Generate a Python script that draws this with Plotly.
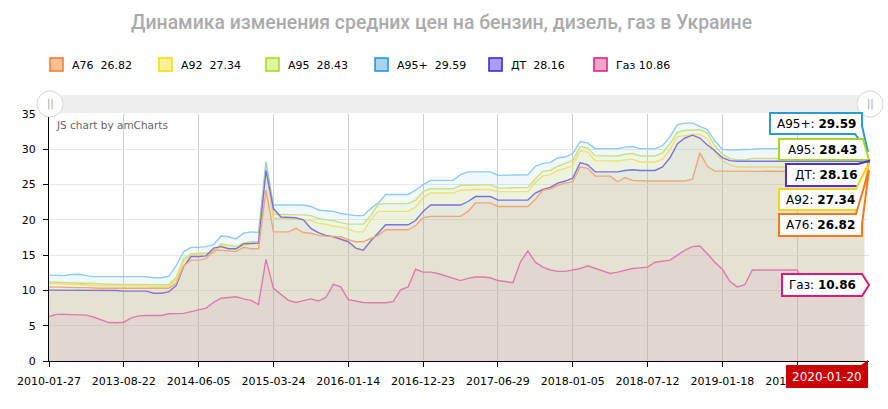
import plotly.graph_objects as go

# ---------------- data ----------------
tick_labels = ["2010-01-27", "2013-08-22", "2014-06-05", "2015-03-24", "2016-01-14",
               "2016-12-23", "2017-06-29", "2018-01-05", "2018-07-12", "2019-01-18",
               "2019-07-26"]
cursor_date = "2020-01-20"

a95p = [12.17, 12.15, 12.1, 12.25, 12.3, 12.1, 11.95, 11.95, 11.95, 11.95,
        11.95, 11.95, 11.95, 11.95, 11.8, 11.8, 12.0, 13.5, 15.5, 16.1,
        16.1, 16.2, 16.5, 17.7, 17.6, 17.3, 18.1, 18.3, 18.2, 28.2,
        22.1, 22.1, 22.2, 22.2, 22.1, 21.9, 21.4, 21.3, 21.2, 20.9,
        20.7, 20.6, 20.6, 21.6, 22.4, 23.6, 23.6, 23.6, 23.6, 24.2,
        25.0, 25.6, 25.6, 25.6, 25.6, 26.4, 26.8, 26.8, 26.8, 26.8,
        26.3, 26.3, 26.3, 26.3, 26.4, 27.6, 28.0, 28.1, 28.8, 28.9,
        29.4, 31.1, 30.9, 30.1, 30.1, 30.1, 30.1, 30.3, 30.4, 30.1,
        30.1, 30.1, 30.5, 31.8, 33.5, 33.7, 33.7, 33.3, 32.8, 31.2,
        30.0, 29.9, 29.9, 29.9, 30.0, 30.1, 30.1, 30.1, 30.1, 30.1,
        30.1, 30.1, 30.1, 30.1, 30.1, 30.1, 30.1, 30.1, 30.1, 29.59]

a95 = [11.2, 11.15, 11.1, 11.1, 11.1, 11.0, 10.9, 10.85, 10.85, 10.85,
       10.85, 10.85, 10.85, 10.85, 10.75, 10.75, 10.8, 11.9, 14.5, 15.2,
       15.2, 15.3, 15.4, 16.6, 16.4, 16.2, 16.7, 16.9, 16.9, 27.3,
       20.8, 20.8, 20.8, 20.8, 20.7, 20.6, 20.2, 20.0, 19.9, 19.6,
       19.4, 19.4, 19.4, 20.6, 22.2, 22.3, 22.3, 22.3, 22.3, 22.8,
       24.0, 24.4, 24.4, 24.4, 24.4, 24.9, 24.95, 24.95, 24.95, 24.95,
       24.5, 24.5, 24.5, 24.5, 24.6, 25.8, 26.9, 27.0, 27.6, 28.0,
       28.4, 30.4, 30.2, 29.1, 29.05, 29.05, 29.05, 29.3, 29.4, 29.05,
       29.05, 29.05, 29.5, 30.8, 32.4, 32.7, 32.7, 32.8, 32.3, 30.5,
       29.3, 28.7, 28.5, 28.5, 28.7, 28.7, 28.7, 28.7, 28.7, 28.7,
       28.7, 28.7, 28.7, 28.7, 28.7, 28.7, 28.7, 28.7, 28.7, 28.43]

a92 = [11.0, 10.95, 10.9, 10.9, 10.9, 10.8, 10.65, 10.65, 10.65, 10.65,
       10.65, 10.65, 10.65, 10.65, 10.5, 10.5, 10.6, 11.5, 14.2, 15.0,
       15.1, 15.1, 15.3, 16.4, 16.0, 15.9, 16.4, 16.65, 16.65, 27.0,
       20.2, 20.2, 20.2, 20.1, 20.0, 19.9, 19.5, 19.4, 19.1, 19.0,
       18.7, 18.3, 18.3, 20.0, 21.2, 21.2, 21.2, 21.2, 21.2, 21.8,
       23.2, 23.8, 23.8, 23.8, 23.8, 24.2, 24.3, 24.3, 24.3, 24.3,
       24.0, 24.0, 24.0, 24.0, 24.0, 25.3, 26.2, 26.4, 27.0, 27.3,
       27.7, 29.8, 29.6, 28.4, 28.35, 28.35, 28.35, 28.5, 28.6, 28.2,
       28.2, 28.2, 28.6, 30.0, 31.8, 32.0, 32.1, 32.1, 31.5, 29.6,
       28.4, 27.8, 27.5, 27.5, 27.5, 27.5, 27.5, 27.5, 27.5, 27.5,
       27.5, 27.5, 27.5, 27.5, 27.5, 27.5, 27.5, 27.5, 27.5, 27.34]

a76 = [10.5, 10.45, 10.4, 10.4, 10.4, 10.4, 10.3, 10.3, 10.3, 10.3,
       10.3, 10.3, 10.3, 10.3, 10.2, 10.2, 10.3, 11.0, 13.5, 14.3,
       14.3, 14.5, 15.7, 15.7, 15.6, 15.5, 16.1, 15.9, 15.9, 24.2,
       18.3, 18.3, 18.3, 18.8, 18.2, 18.1, 17.8, 17.7, 17.6, 17.6,
       17.2, 16.9, 16.9, 17.3, 17.8, 18.6, 18.6, 18.6, 18.6, 19.2,
       20.3, 20.5, 20.5, 20.5, 20.5, 20.5, 21.2, 22.4, 22.4, 22.4,
       21.9, 21.9, 21.9, 21.9, 21.9, 22.9, 24.2, 24.4, 24.9, 25.2,
       25.4, 27.5, 27.3, 26.2, 26.2, 26.2, 25.4, 26.0, 25.6, 25.5,
       25.5, 25.5, 25.5, 25.5, 25.5, 25.5, 25.75, 29.5, 27.6, 26.9,
       26.9, 26.9, 26.9, 26.9, 26.9, 26.9, 26.9, 26.9, 26.9, 26.9,
       26.9, 26.9, 26.9, 26.9, 26.9, 26.9, 26.9, 26.9, 26.9, 26.82]

dt = [10.05, 10.05, 10.05, 10.05, 10.05, 10.05, 10.05, 10.05, 10.05, 10.0,
      9.9, 9.9, 9.9, 9.9, 9.6, 9.6, 9.8, 10.7, 13.4, 14.8,
      14.8, 14.9, 16.0, 16.2, 15.9, 15.9, 16.6, 16.7, 16.7, 27.0,
      21.6, 20.4, 20.3, 20.3, 20.0, 18.8, 18.2, 17.8, 17.6, 17.3,
      16.9, 16.0, 15.7, 17.0, 18.1, 19.3, 19.3, 19.3, 19.3, 19.9,
      21.2, 22.1, 22.1, 22.1, 22.1, 22.1, 22.6, 23.3, 23.3, 23.3,
      22.8, 22.8, 22.8, 22.8, 22.8, 23.8, 24.3, 24.6, 25.2, 25.5,
      25.9, 28.1, 27.8, 26.8, 26.8, 26.8, 26.8, 27.0, 27.1, 27.0,
      27.0, 27.0, 27.5, 28.8, 30.8, 31.6, 32.0, 31.6, 30.6, 29.8,
      28.8, 28.4, 28.3, 28.3, 28.3, 28.3, 28.3, 28.3, 28.3, 28.3,
      28.3, 28.3, 28.3, 28.3, 28.3, 28.3, 28.3, 28.3, 28.3, 28.16]

gas = [6.3, 6.6, 6.6, 6.6, 6.6, 6.5, 6.2, 5.8, 5.45, 5.42,
       5.5, 6.1, 6.4, 6.45, 6.45, 6.45, 6.7, 6.75, 6.75, 7.0,
       7.2, 7.5, 8.3, 8.9, 9.0, 9.1, 8.8, 8.6, 8.0, 14.4,
       10.3, 9.4, 8.6, 8.3, 8.6, 8.8, 8.5, 9.0, 10.85, 10.5,
       8.7, 8.5, 8.3, 8.26, 8.26, 8.26, 8.4, 10.1, 10.5, 13.0,
       12.6, 12.6, 12.4, 12.1, 11.8, 11.4, 11.7, 11.9, 11.9, 11.8,
       11.4, 11.2, 11.1, 14.0, 15.6, 14.0, 13.3, 12.9, 12.7, 12.7,
       12.9, 13.1, 13.5, 13.1, 12.7, 12.4, 12.6, 12.9, 13.1, 13.2,
       13.3, 14.0, 14.2, 14.3, 15.0, 15.7, 16.2, 16.3, 15.2, 14.0,
       13.0, 11.3, 10.5, 10.8, 12.9, 12.9, 12.9, 12.9, 12.9, 12.9,
       12.9, 10.86, 10.86, 10.86, 10.86, 10.86, 10.86, 10.86, 10.86, 10.86]

names = ["A76", "A92", "A95", "A95+", "ДТ", "Газ"]
last_values = ["26.82", "27.34", "28.43", "29.59", "28.16", "10.86"]

idx = list(range(len(a95p)))
tick_idx = list(range(0, 101, 10))

# ---------------- styles ----------------
FONT = "DejaVu Sans"
series = [  # drawing order (largest first so smaller fills overlay)
    ("A95+", a95p, "#8fcbee", "rgba(140,200,240,0.13)"),
    ("A95", a95, "#c6e27c", "rgba(210,232,130,0.13)"),
    ("A92", a92, "#f5dc74", "rgba(250,222,100,0.10)"),
    ("ДТ", dt, "#7d70df", "rgba(130,112,220,0.07)"),
    ("A76", a76, "#eea878", "rgba(235,160,110,0.09)"),
    ("Газ", gas, "#e07aae", "rgba(205,105,185,0.10)"),
]

fig = go.Figure()
for nm, ys, lc, fc in series:
    fig.add_trace(go.Scatter(x=idx, y=ys, mode="lines", name=nm,
                             line=dict(color=lc, width=1.4),
                             fill="tozeroy", fillcolor=fc,
                             hoverinfo="skip", showlegend=False))

L, R, T, B = 49, 869, 114, 361


def px(x):
    return (x - L) / (R - L)


def py(y):
    return (B - y) / (B - T)


shapes = []
annos = []

# title
annos.append(dict(x=px(441), y=py(22), xref="paper", yref="paper", showarrow=False,
                  text="Динамика изменения средних цен на бензин, дизель, газ в Украине",
                  font=dict(family="Roboto", size=19.4, color="#ababab", weight=500),
                  xanchor="center", yanchor="middle"))

# legend
leg_fill = ["#fdbf94", "#fff19a", "#e1f5a0", "#a5d5ef", "#a99ef0", "#f2a4c9"]
leg_line = ["#f97a22", "#ffd700", "#a8d80e", "#1e90d0", "#3a1fd0", "#e0177c"]
leg_sq = [50, 159, 266, 375, 489, 594]
for i, nm in enumerate(names):
    x0 = leg_sq[i]
    shapes.append(dict(type="rect", xref="paper", yref="paper",
                       x0=px(x0), x1=px(x0 + 13), y0=py(58), y1=py(71),
                       fillcolor=leg_fill[i], line=dict(color=leg_line[i], width=1.5)))
    sep = "\u00a0 " if nm != "Газ" else " "
    annos.append(dict(x=px(x0 + 20), y=py(65), xref="paper", yref="paper", showarrow=False,
                      text=nm + sep + last_values[i], xanchor="left", yanchor="middle",
                      font=dict(family=FONT, size=11, color="#000")))

# scrollbar
shapes.append(dict(type="rect", xref="paper", yref="paper", x0=px(49), x1=px(870),
                   y0=py(113), y1=py(95), fillcolor="#eeeeee", line=dict(width=0), layer="below"))
for cx in (50, 870):
    shapes.append(dict(type="circle", xref="paper", yref="paper",
                       x0=px(cx - 13), x1=px(cx + 13), y0=py(117), y1=py(91),
                       fillcolor="#ffffff", line=dict(color="#d6d6d6", width=1)))
    annos.append(dict(x=px(cx), y=py(104), xref="paper", yref="paper", showarrow=False,
                      text="||", font=dict(family=FONT, size=10, color="#a0a0a0"),
                      xanchor="center", yanchor="middle"))

# credit
annos.append(dict(x=px(54), y=py(125), xref="paper", yref="paper", showarrow=False,
                  text="JS chart by amCharts", xanchor="left", yanchor="middle",
                  font=dict(family=FONT, size=10.5, color="#666666")))


def path(pts):
    s = "M " + " L ".join(f"{px(a):.5f},{py(b):.5f}" for a, b in pts) + " Z"
    return s


balloons = [
    ("A95+", "29.59", "#2a9ad6", [(770, 113), (862, 113), (862, 126), (868, 152), (855, 134), (770, 134)], (816, 123.5)),
    ("A95", "28.43", "#a9d623", [(779, 139), (863, 139), (869, 160), (779, 160)], (822, 149.5)),
    ("ДТ", "28.16", "#4a30d8", [(786, 164), (858, 164), (869, 161), (866, 172), (866, 186), (786, 186)], (826, 175)),
    ("A92", "27.34", "#ffd21a", [(779, 189), (856, 189), (869, 163), (862, 199), (862, 210), (779, 210)], (820.5, 199.5)),
    ("A76", "26.82", "#f07a20", [(779, 214), (856, 214), (869, 170), (862, 224), (862, 236), (779, 236)], (820.5, 225)),
    ("Газ", "10.86", "#d81b7a", [(782, 274), (862, 274), (869, 285), (862, 296), (782, 296)], (822, 285)),
]
for nm, val, col, pts, (tx, ty) in balloons:
    shapes.append(dict(type="path", xref="paper", yref="paper", path=path(pts),
                       fillcolor="rgba(255,255,255,0.95)", line=dict(color=col, width=2)))
    annos.append(dict(x=px(tx), y=py(ty), xref="paper", yref="paper", showarrow=False,
                      text=f"{nm}: <b>{val}</b>", xanchor="center", yanchor="middle",
                      font=dict(family=FONT, size=12, color="#000")))

# cursor date label
shapes.append(dict(type="rect", xref="paper", yref="paper", x0=px(786), x1=px(868),
                   y0=py(388), y1=py(365), fillcolor="#cc0000", line=dict(width=0)))
shapes.append(dict(type="path", xref="paper", yref="paper",
                   path=path([(861, 365), (868, 365), (868, 360)]),
                   fillcolor="#cc0000", line=dict(width=0)))
annos.append(dict(x=px(827), y=py(376.5), xref="paper", yref="paper", showarrow=False,
                  text=cursor_date, xanchor="center", yanchor="middle",
                  font=dict(family=FONT, size=12, color="#ffffff")))

fig.update_layout(
    width=888, height=409,
    margin=dict(l=L, r=888 - R, t=T, b=409 - B),
    paper_bgcolor="#ffffff", plot_bgcolor="#ffffff",
    showlegend=False,
    shapes=shapes, annotations=annos,
    xaxis=dict(range=[0, 109.6], tickmode="array", tickvals=tick_idx, ticktext=tick_labels,
               showgrid=True, gridcolor="#cdcdcd", gridwidth=1, zeroline=False,
               showline=True, linecolor="#000000", linewidth=1,
               ticks="outside", ticklen=5, tickcolor="#000000", ticklabelstandoff=5,
               tickfont=dict(family=FONT, size=11, color="#000")),
    yaxis=dict(range=[0, 35], dtick=5, showgrid=True, gridcolor="#e6e6e6", gridwidth=1,
               zeroline=False, showline=True, linecolor="#000000", linewidth=1,
               ticks="outside", ticklen=5, tickcolor="#000000", ticklabelstandoff=5,
               tickfont=dict(family=FONT, size=11, color="#000")),
)

fig.write_html("out.html")
